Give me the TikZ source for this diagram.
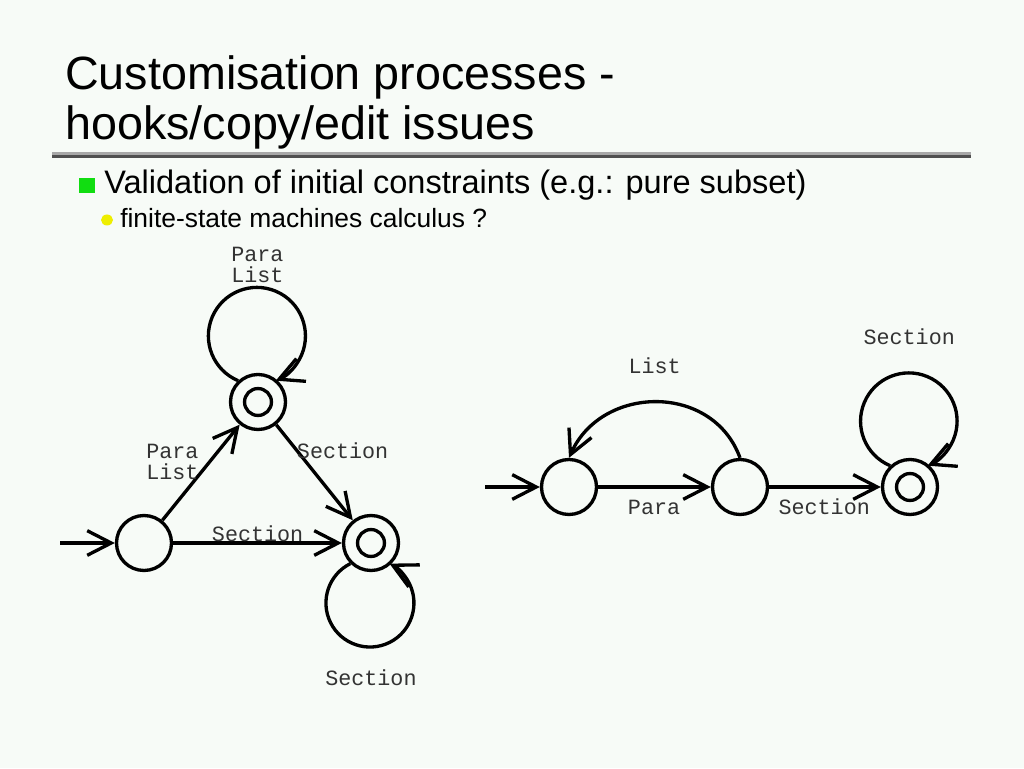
\documentclass[tikz,border=0pt]{standalone}
\usepackage{fontspec}
\setmainfont{Liberation Sans}
\newfontfamily\labelfont{Liberation Mono}
\usetikzlibrary{arrows.meta}
\definecolor{SlideBg}     {HTML}{F7FBF7}
\definecolor{BulletGreen} {HTML}{11DD11}
\definecolor{BulletYellow}{HTML}{EEEE00}
\definecolor{RuleLight}   {HTML}{A8A8A8}
\definecolor{RuleDark}    {HTML}{505050}
\tikzset{
  titletxt/.style={anchor=base west,inner sep=0pt,font=\fontsize{35}{38}\selectfont},
  itemtxt/.style={anchor=base west,inner sep=0pt,font=\fontsize{24.4}{28}\selectfont},
  subtxt/.style={anchor=base west,inner sep=0pt,font=\fontsize{19.8}{22}\selectfont},
  stnode/.style={circle,draw,line width=2.5pt,minimum size=41.25pt,inner sep=0pt},
  finnode/.style={stnode,path picture={\draw[line width=2.5pt]
                  (path picture bounding box.center) circle[radius=10.1pt];}},
  lbl/.style={anchor=base west,inner sep=0pt,align=left,text=black!80,
              font=\labelfont\fontsize{16.3}{16.2}\selectfont},
  arr/.style={-{Straight Barb[length=18pt,width=18.5pt]},line width=2.5pt},
}
\begin{document}
\begin{tikzpicture}[x=0.75pt,y=0.75pt]
  \fill[SlideBg] (0,0) rectangle (1024,768);
  \useasboundingbox (0,0) rectangle (1024,768);

  % title and rule
  \node[titletxt] (title1) at (65,678) {Customisation processes -};
  \node[titletxt] (title2) at (65,628) {hooks/copy/edit issues};
  \draw[RuleLight,line width=2pt]  (52,614.7) -- (971,614.7);
  \draw[RuleDark,line width=2.25pt] (52,611.8) -- (971,611.8);

  % bullets
  \fill[BulletGreen] (78.5,574.7) rectangle (95,589.7);
  \node[itemtxt] (item1) at (104,574) {Validation of initial constraints (e.g.: pure subset)};
  \fill[BulletYellow] (107,548) ellipse [x radius=6,y radius=5.5];
  \node[subtxt] (item2) at (120,540.5) {finite-state machines calculus ?};

  % left automaton
  \node[stnode]  (s0) at (144,225) {};
  \node[finnode] (s1) at (258,366) {};
  \node[finnode] (s2) at (371,225) {};
  \coordinate (s0in) at (60,225);

  \draw[arr] (s0in) -- (s0);
  \draw[arr] (s0) -- (s1);
  \draw[arr] (s1) -- (s2);
  \draw[arr] (s0) -- (s2);
  \draw[arr] (s1.133) arc[start angle=247.2,end angle=-67.2,radius=36.4pt];
  \draw[arr] (s2.225) arc[start angle=116.4,end angle=423.6,radius=33pt];

  \node[lbl] (s1loop) at (231,485) {Para\\List};
  \node[lbl] (s0s1)   at (146,288) {Para\\List};
  \node[lbl] (s1s2)   at (296.7,309.7) {Section};
  \node[lbl] (s0s2)   at (211.7,226.3) {Section};
  \node[lbl] (s2loop) at (325,83) {Section};

  % right automaton
  \node[stnode]  (r0) at (569,281) {};
  \node[stnode]  (r1) at (740,281) {};
  \node[finnode] (r2) at (910,281) {};
  \coordinate (r0in) at (485,281);

  \draw[arr] (r0in) -- (r0);
  \draw[arr] (r0) -- (r1);
  \draw[arr] (r1) -- (r2);
  \draw[arr] (r1.north) to[out=110,in=66,looseness=1.2] (r0.north);
  \draw[arr] (r2.133) arc[start angle=247.2,end angle=-67.2,radius=36.2pt];

  \node[lbl] (r1r0)   at (628.3,394.7) {List};
  \node[lbl] (r0r1)   at (627.7,253) {Para};
  \node[lbl] (r1r2)   at (778.3,253) {Section};
  \node[lbl] (r2loop) at (863.3,423) {Section};
\end{tikzpicture}
\end{document}
